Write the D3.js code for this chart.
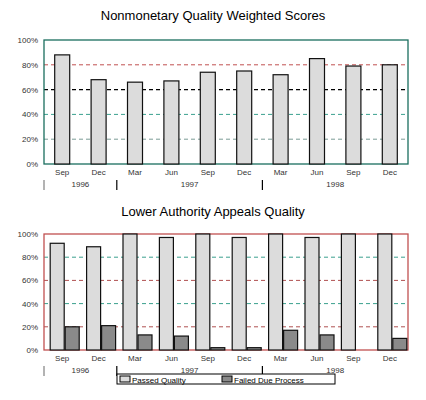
<!DOCTYPE html><html><head><script src="https://cdn.jsdelivr.net/npm/d3@7"></script>
<style>body{margin:0;background:#fff}text{font-family:Arial,"Liberation Sans",sans-serif}</style></head><body>
<svg id="c" width="426" height="400"></svg>
<script>
const categories=["Sep","Dec","Mar","Jun","Sep","Dec","Mar","Jun","Sep","Dec"];
const years=[{label:"1996",from:0,to:2},{label:"1997",from:2,to:6},{label:"1998",from:6,to:10}];
const nonmonetary=[88,68,66,67,74,75,72,85,79,80];
const passedQuality=[92,89,100,97,100,97,100,97,100,100];
const failedDueProcess=[20,21,13,12,2,2,17,13,0,10];
const ticks=[0,20,40,60,80,100];
const svg=d3.select("#c");
const L=44,R=408;
const x=d3.scaleBand().domain(d3.range(10)).range([L,R]);
function panel(top,bot,title,ty,series,gridCols,frame){
  const y=d3.scaleLinear().domain([0,100]).range([bot,top]);
  svg.append("text").attr("x",213).attr("y",ty).attr("text-anchor","middle").attr("font-size",13).text(title);
  const g=svg.append("g");
  [20,40,60,80].forEach(v=>{
    g.append("line").attr("x1",L).attr("x2",R).attr("y1",y(v)).attr("y2",y(v))
     .attr("stroke",gridCols[v]).attr("stroke-dasharray","4,3").attr("stroke-width",v===60&&gridCols.bold?1.3:1);
  });
  g.append("rect").attr("x",L).attr("y",top).attr("width",R-L).attr("height",bot-top).attr("fill","none").attr("stroke",frame).attr("stroke-width",1.3);
  series.forEach(s=>{
    g.selectAll(null).data(s.data).enter().append("rect")
     .attr("x",(d,i)=>x(i)+x.bandwidth()/2+s.off).attr("width",s.w)
     .attr("y",d=>y(d)).attr("height",d=>bot-y(d))
     .attr("fill",s.fill).attr("stroke","#111").attr("stroke-width",1.2);
  });
  const ax=d3.axisLeft(y).tickValues(ticks).tickFormat(d=>d+"%").tickSize(0).tickPadding(6);
  svg.append("g").attr("transform",`translate(${L},0)`).call(ax).call(a=>a.select(".domain").remove())
   .selectAll("text").attr("font-size",8).attr("fill","#333");
  const xa=svg.append("g");
  xa.selectAll(null).data(categories).enter().append("text").attr("x",(d,i)=>x(i)+x.bandwidth()/2).attr("y",bot+11)
   .attr("text-anchor","middle").attr("font-size",8).attr("fill","#333").text(d=>d);
  years.forEach(yr=>{
    const x0=x(yr.from), x1=yr.to<10?x(yr.to):R;
    xa.append("text").attr("x",(x0+x1)/2).attr("y",bot+23).attr("text-anchor","middle").attr("font-size",8).attr("fill","#333").text(yr.label);
    xa.append("line").attr("x1",x0).attr("x2",x0).attr("y1",bot+16).attr("y2",bot+26).attr("stroke","#000").attr("stroke-width",yr.from===0?0.6:1.2);
  });
}
const g1={20:"#7a9c96",40:"#3aa08e",60:"#000",80:"#c05050",bold:true};
panel(40,164,"Nonmonetary Quality Weighted Scores",20,[{data:nonmonetary,off:-7.5,w:15,fill:"#dcdcdc"}],g1,"#1a6e5e");
const g2={20:"#b05050",40:"#3aa08e",60:"#b05050",80:"#3aa08e"};
panel(234,350,"Lower Authority Appeals Quality",216,[
 {data:passedQuality,off:-12,w:14,fill:"#dcdcdc"},
 {data:failedDueProcess,off:3,w:14,fill:"#8a8a8a"}],g2,"#c05050");
const lg=svg.append("g");
lg.append("rect").attr("x",117).attr("y",374).attr("width",218).attr("height",10).attr("fill","#fff").attr("stroke","#000");
[["Passed Quality","#dcdcdc",120],["Failed Due Process","#8a8a8a",222]].forEach(([t,c,xx])=>{
  lg.append("rect").attr("x",xx).attr("y",376).attr("width",10).attr("height",6).attr("fill",c).attr("stroke","#000");
  lg.append("text").attr("x",xx+12).attr("y",382.5).attr("font-size",8).text(t);
});
</script></body></html>
